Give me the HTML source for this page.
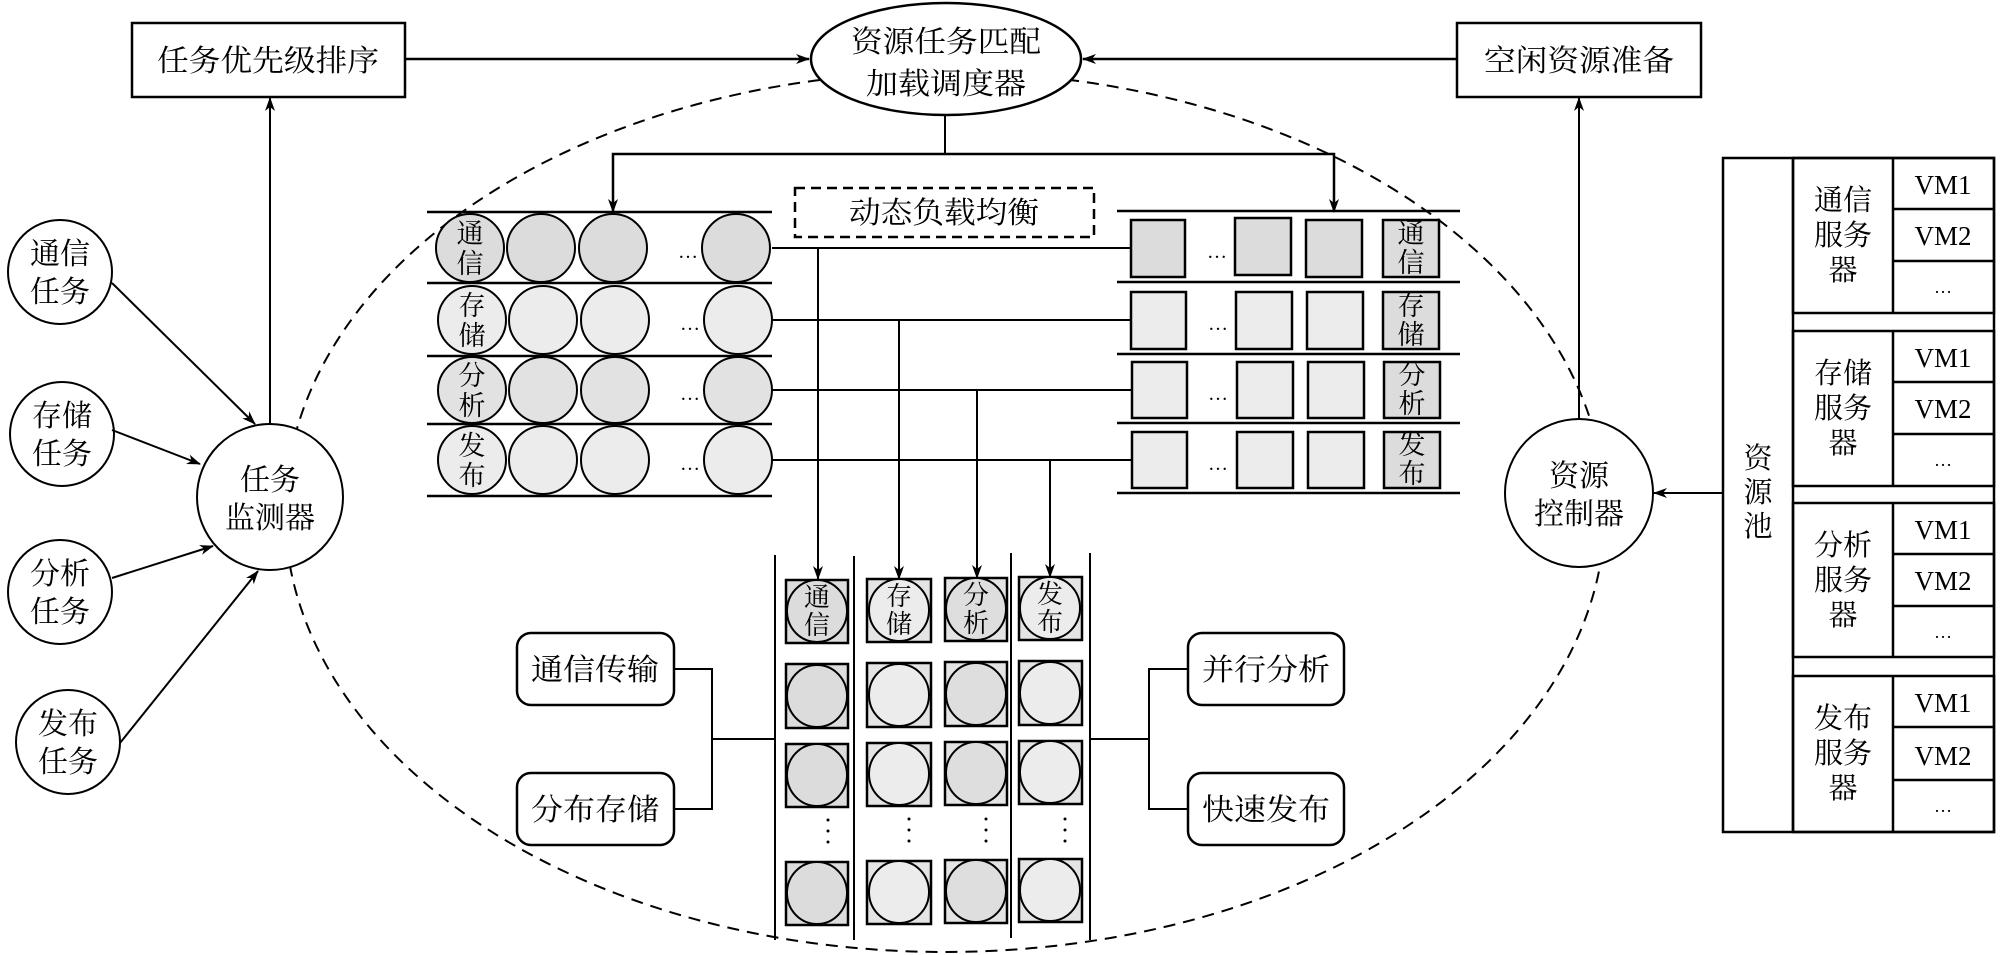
<!DOCTYPE html>
<html><head><meta charset="utf-8"><style>
html,body{margin:0;padding:0;background:#fff;}
svg{display:block;}
text{font-family:"Liberation Serif","Noto Serif CJK SC",serif;fill:#000;}
</style></head><body>
<svg width="2000" height="955" viewBox="0 0 2000 955" xmlns="http://www.w3.org/2000/svg">
<defs>
<marker id="a" markerWidth="14" markerHeight="10" refX="13" refY="5" orient="auto" markerUnits="userSpaceOnUse">
<path d="M0,0 L14,5 L0,10 L4,5 Z" fill="#000"/></marker>
</defs>
<g stroke="#000" stroke-width="2" fill="none">
<!-- big dashed ellipse -->
<ellipse cx="945" cy="512" rx="660" ry="440" stroke-dasharray="12,8" stroke-width="2"/>
</g>
<!-- top boxes -->
<g stroke="#000" stroke-width="2.5" fill="#fff">
<rect x="132" y="23" width="273" height="74"/>
<rect x="1457" y="23" width="244" height="74"/>
<ellipse cx="946" cy="59" rx="135" ry="56"/>
</g>
<g font-size="30" text-anchor="middle">
<text x="268" y="71" textLength="222" lengthAdjust="spacingAndGlyphs">任务优先级排序</text>
<text x="1579" y="71" textLength="190" lengthAdjust="spacingAndGlyphs">空闲资源准备</text>
<text x="946" y="52" textLength="190" lengthAdjust="spacingAndGlyphs">资源任务匹配</text>
<text x="946" y="94" textLength="160" lengthAdjust="spacingAndGlyphs">加载调度器</text>
</g>
<g stroke="#000" stroke-width="2.5" fill="none">
<line x1="405" y1="59" x2="809" y2="59" marker-end="url(#a)"/>
<line x1="1457" y1="59" x2="1083" y2="59" marker-end="url(#a)"/>
</g>
<g stroke="#000" stroke-width="2" fill="none">
<line x1="945" y1="115" x2="945" y2="154"/>
<polyline points="613,212 613,154 1334,154 1334,212" stroke-width="2.5"/>
<line x1="613" y1="180" x2="613" y2="212" marker-end="url(#a)"/>
<line x1="1334" y1="180" x2="1334" y2="212" marker-end="url(#a)"/>
<rect x="795" y="188" width="299" height="49" stroke-dasharray="10,6" stroke-width="2.5"/>
</g>
<text x="944" y="223" font-size="30" text-anchor="middle" textLength="190" lengthAdjust="spacingAndGlyphs">动态负载均衡</text>

<!-- left task circles -->
<g stroke="#000" stroke-width="2" fill="#fff">
<circle cx="60" cy="272" r="52"/>
<circle cx="62" cy="434" r="52"/>
<circle cx="60" cy="592" r="52"/>
<circle cx="68" cy="742" r="52"/>
<circle cx="270" cy="497" r="73"/>
<circle cx="1579" cy="493" r="74"/>
</g>
<g font-size="30" text-anchor="middle">
<text x="60" y="264">通信</text><text x="60" y="302">任务</text>
<text x="62" y="426">存储</text><text x="62" y="464">任务</text>
<text x="60" y="584">分析</text><text x="60" y="622">任务</text>
<text x="68" y="734">发布</text><text x="68" y="772">任务</text>
<text x="270" y="490">任务</text><text x="270" y="528">监测器</text>
<text x="1579" y="486">资源</text><text x="1579" y="524">控制器</text>
</g>
<g stroke="#000" stroke-width="2" fill="none">
<line x1="112" y1="283" x2="255" y2="424" marker-end="url(#a)"/>
<line x1="112" y1="430" x2="200" y2="464" marker-end="url(#a)"/>
<line x1="112" y1="578" x2="213" y2="546" marker-end="url(#a)"/>
<line x1="120" y1="743" x2="258" y2="571" marker-end="url(#a)"/>
<line x1="270" y1="424" x2="270" y2="98" marker-end="url(#a)"/>
<line x1="1579" y1="419" x2="1579" y2="98" marker-end="url(#a)"/>
<line x1="1723" y1="493" x2="1654" y2="493" marker-end="url(#a)"/>
</g>

<!-- left queues -->
<g stroke="#000" stroke-width="2.5">
<line x1="427" y1="212" x2="772" y2="212"/>
<line x1="427" y1="283" x2="772" y2="283"/>
<line x1="427" y1="356" x2="772" y2="356"/>
<line x1="427" y1="424" x2="772" y2="424"/>
<line x1="427" y1="496" x2="772" y2="496"/>
</g>
<g stroke="#000" stroke-width="2">
<g fill="#dcdcdc">
<ellipse cx="470" cy="248" rx="34" ry="34"/><ellipse cx="541" cy="248" rx="34" ry="34"/><ellipse cx="613" cy="248" rx="34" ry="34"/><ellipse cx="736" cy="248" rx="34" ry="34"/>
</g>
<g fill="#ececec">
<ellipse cx="472" cy="320" rx="34" ry="34"/><ellipse cx="543" cy="320" rx="34" ry="34"/><ellipse cx="615" cy="320" rx="34" ry="34"/><ellipse cx="738" cy="320" rx="34" ry="34"/>
</g>
<g fill="#e2e2e2">
<ellipse cx="472" cy="390" rx="34" ry="33"/><ellipse cx="543" cy="390" rx="34" ry="33"/><ellipse cx="615" cy="390" rx="34" ry="33"/><ellipse cx="738" cy="390" rx="34" ry="33"/>
</g>
<g fill="#ececec">
<ellipse cx="472" cy="460" rx="34" ry="34"/><ellipse cx="543" cy="460" rx="34" ry="34"/><ellipse cx="615" cy="460" rx="34" ry="34"/><ellipse cx="738" cy="460" rx="34" ry="34"/>
</g>
</g>
<g font-size="27" text-anchor="middle">
<text x="470" y="243">通</text><text x="470" y="273">信</text>
<text x="472" y="315">存</text><text x="472" y="345">储</text>
<text x="472" y="385">分</text><text x="472" y="415">析</text>
<text x="472" y="455">发</text><text x="472" y="485">布</text>
</g>
<g font-size="20" text-anchor="middle">
<text x="688" y="258">…</text><text x="690" y="330">…</text><text x="690" y="400">…</text><text x="690" y="470">…</text>
</g>

<!-- right queues -->
<g stroke="#000" stroke-width="2.5">
<line x1="1117" y1="211" x2="1460" y2="211"/>
<line x1="1117" y1="282" x2="1460" y2="282"/>
<line x1="1117" y1="354" x2="1460" y2="354"/>
<line x1="1117" y1="423" x2="1460" y2="423"/>
<line x1="1117" y1="493" x2="1460" y2="493"/>
</g>
<g stroke="#000" stroke-width="2.5">
<g fill="#dcdcdc">
<rect x="1131" y="220" width="54" height="57"/><rect x="1235" y="218" width="56" height="57"/><rect x="1306" y="220" width="56" height="57"/><rect x="1383" y="220" width="56" height="57"/>
</g>
<g fill="#ececec">
<rect x="1131" y="292" width="55" height="57"/><rect x="1236" y="292" width="56" height="57"/><rect x="1307" y="292" width="56" height="57"/>
<rect x="1132" y="362" width="55" height="56"/><rect x="1237" y="362" width="56" height="56"/><rect x="1308" y="362" width="56" height="56"/>
<rect x="1132" y="432" width="55" height="56"/><rect x="1237" y="432" width="56" height="56"/><rect x="1308" y="432" width="56" height="56"/>
</g>
<g fill="#dcdcdc">
<rect x="1383" y="292" width="56" height="57"/><rect x="1384" y="362" width="56" height="56"/><rect x="1384" y="432" width="56" height="56"/>
</g>
</g>
<g font-size="27" text-anchor="middle">
<text x="1411" y="243">通</text><text x="1411" y="272">信</text>
<text x="1411" y="315">存</text><text x="1411" y="344">储</text>
<text x="1412" y="384">分</text><text x="1412" y="413">析</text>
<text x="1412" y="454">发</text><text x="1412" y="483">布</text>
</g>
<g font-size="20" text-anchor="middle">
<text x="1217" y="258">…</text><text x="1218" y="330">…</text><text x="1218" y="400">…</text><text x="1218" y="470">…</text>
</g>

<!-- connectors queue -> processing -->
<g stroke="#000" stroke-width="2" fill="none">
<line x1="772" y1="248" x2="1131" y2="248"/>
<line x1="772" y1="320" x2="1131" y2="320"/>
<line x1="772" y1="390" x2="1132" y2="390"/>
<line x1="772" y1="460" x2="1132" y2="460"/>
<line x1="818" y1="248" x2="818" y2="579" marker-end="url(#a)"/>
<line x1="899" y1="320" x2="899" y2="579" marker-end="url(#a)"/>
<line x1="977" y1="390" x2="977" y2="578" marker-end="url(#a)"/>
<line x1="1050" y1="460" x2="1050" y2="577" marker-end="url(#a)"/>
</g>

<!-- processing columns -->
<g stroke="#000" stroke-width="2">
<line x1="775" y1="555" x2="775" y2="940"/>
<line x1="854" y1="556" x2="854" y2="940"/>
<line x1="1011" y1="553" x2="1011" y2="938"/>
<line x1="1090" y1="553" x2="1090" y2="940"/>
</g>
<g stroke="#000" stroke-width="2.5">
<g fill="#dcdcdc">
<rect x="786" y="580" width="62" height="63"/><rect x="786" y="664" width="62" height="64"/><rect x="786" y="744" width="62" height="63"/><rect x="786" y="862" width="62" height="63"/>
</g>
<g fill="#e4e4e4">
<rect x="867" y="579" width="64" height="63"/><rect x="867" y="663" width="64" height="64"/><rect x="867" y="743" width="64" height="63"/><rect x="867" y="861" width="64" height="63"/>
<rect x="945" y="578" width="62" height="63"/><rect x="945" y="662" width="62" height="64"/><rect x="945" y="742" width="62" height="63"/><rect x="945" y="860" width="62" height="63"/>
<rect x="1019" y="577" width="63" height="63"/><rect x="1019" y="661" width="63" height="64"/><rect x="1019" y="741" width="63" height="63"/><rect x="1019" y="859" width="63" height="63"/>
</g>
</g>
<g stroke="#000" stroke-width="2">
<g fill="#dcdcdc">
<ellipse cx="817" cy="611" rx="30" ry="31"/><ellipse cx="817" cy="696" rx="30" ry="31"/><ellipse cx="817" cy="775" rx="30" ry="31"/><ellipse cx="817" cy="893" rx="30" ry="31"/>
</g>
<g fill="#ececec">
<ellipse cx="899" cy="610" rx="30" ry="31"/><ellipse cx="899" cy="695" rx="30" ry="31"/><ellipse cx="899" cy="774" rx="30" ry="31"/><ellipse cx="899" cy="892" rx="30" ry="31"/>
</g>
<g fill="#dedede">
<ellipse cx="976" cy="609" rx="30" ry="31"/><ellipse cx="976" cy="694" rx="30" ry="31"/><ellipse cx="976" cy="773" rx="30" ry="31"/><ellipse cx="976" cy="891" rx="30" ry="31"/>
</g>
<g fill="#ececec">
<ellipse cx="1050" cy="608" rx="30" ry="31"/><ellipse cx="1050" cy="693" rx="30" ry="31"/><ellipse cx="1050" cy="772" rx="30" ry="31"/><ellipse cx="1050" cy="890" rx="30" ry="31"/>
</g>
</g>
<g font-size="26" text-anchor="middle">
<text x="817" y="606">通</text><text x="817" y="634">信</text>
<text x="899" y="605">存</text><text x="899" y="633">储</text>
<text x="976" y="604">分</text><text x="976" y="632">析</text>
<text x="1050" y="603">发</text><text x="1050" y="631">布</text>
</g>
<g fill="#000">
<circle cx="828" cy="820" r="1.5"/><circle cx="828" cy="831" r="1.5"/><circle cx="828" cy="842" r="1.5"/>
<circle cx="909" cy="819" r="1.5"/><circle cx="909" cy="830" r="1.5"/><circle cx="909" cy="841" r="1.5"/>
<circle cx="986" cy="819" r="1.5"/><circle cx="986" cy="830" r="1.5"/><circle cx="986" cy="841" r="1.5"/>
<circle cx="1065" cy="819" r="1.5"/><circle cx="1065" cy="830" r="1.5"/><circle cx="1065" cy="841" r="1.5"/>
</g>

<!-- side boxes -->
<g stroke="#000" stroke-width="2.5" fill="#fff">
<rect x="517" y="633" width="157" height="72" rx="14"/>
<rect x="517" y="773" width="157" height="72" rx="14"/>
<rect x="1188" y="633" width="156" height="72" rx="14"/>
<rect x="1188" y="773" width="156" height="72" rx="14"/>
</g>
<g font-size="30" text-anchor="middle">
<text x="595" y="680" textLength="128" lengthAdjust="spacingAndGlyphs">通信传输</text>
<text x="595" y="820" textLength="128" lengthAdjust="spacingAndGlyphs">分布存储</text>
<text x="1266" y="680" textLength="128" lengthAdjust="spacingAndGlyphs">并行分析</text>
<text x="1266" y="820" textLength="128" lengthAdjust="spacingAndGlyphs">快速发布</text>
</g>
<g stroke="#000" stroke-width="2" fill="none">
<polyline points="674,669 712,669 712,809 674,809"/>
<line x1="712" y1="739" x2="775" y2="739"/>
<polyline points="1188,669 1149,669 1149,809 1188,809"/>
<line x1="1090" y1="739" x2="1149" y2="739"/>
</g>

<!-- resource pool -->
<g stroke="#000" stroke-width="2.5" fill="#fff">
<rect x="1723" y="158" width="271" height="674"/>
<line x1="1793" y1="158" x2="1793" y2="832"/>
</g>
<g stroke="#000" stroke-width="2.5" fill="none">
<rect x="1793" y="158" width="201" height="155"/>
<line x1="1893" y1="158" x2="1893" y2="313"/><line x1="1893" y1="209" x2="1994" y2="209"/><line x1="1893" y1="261" x2="1994" y2="261"/>
<rect x="1793" y="331" width="201" height="155"/>
<line x1="1893" y1="331" x2="1893" y2="486"/><line x1="1893" y1="382" x2="1994" y2="382"/><line x1="1893" y1="434" x2="1994" y2="434"/>
<rect x="1793" y="503" width="201" height="154"/>
<line x1="1893" y1="503" x2="1893" y2="657"/><line x1="1893" y1="554" x2="1994" y2="554"/><line x1="1893" y1="606" x2="1994" y2="606"/>
<rect x="1793" y="676" width="201" height="156"/>
<line x1="1893" y1="676" x2="1893" y2="832"/><line x1="1893" y1="727" x2="1994" y2="727"/><line x1="1893" y1="780" x2="1994" y2="780"/>
</g>
<g font-size="29" text-anchor="middle">
<text x="1758" y="468">资</text><text x="1758" y="502">源</text><text x="1758" y="536">池</text>
<text x="1843" y="210">通信</text><text x="1843" y="245">服务</text><text x="1843" y="280">器</text>
<text x="1843" y="383">存储</text><text x="1843" y="418">服务</text><text x="1843" y="453">器</text>
<text x="1843" y="555">分析</text><text x="1843" y="590">服务</text><text x="1843" y="625">器</text>
<text x="1843" y="728">发布</text><text x="1843" y="763">服务</text><text x="1843" y="798">器</text>
</g>
<g font-size="27" text-anchor="middle" font-family="Liberation Serif">
<text x="1943" y="194">VM1</text><text x="1943" y="245">VM2</text><text x="1943" y="293" font-size="18">…</text>
<text x="1943" y="367">VM1</text><text x="1943" y="418">VM2</text><text x="1943" y="466" font-size="18">…</text>
<text x="1943" y="539">VM1</text><text x="1943" y="590">VM2</text><text x="1943" y="638" font-size="18">…</text>
<text x="1943" y="712">VM1</text><text x="1943" y="765">VM2</text><text x="1943" y="812" font-size="18">…</text>
</g>
</svg>
</body></html>
